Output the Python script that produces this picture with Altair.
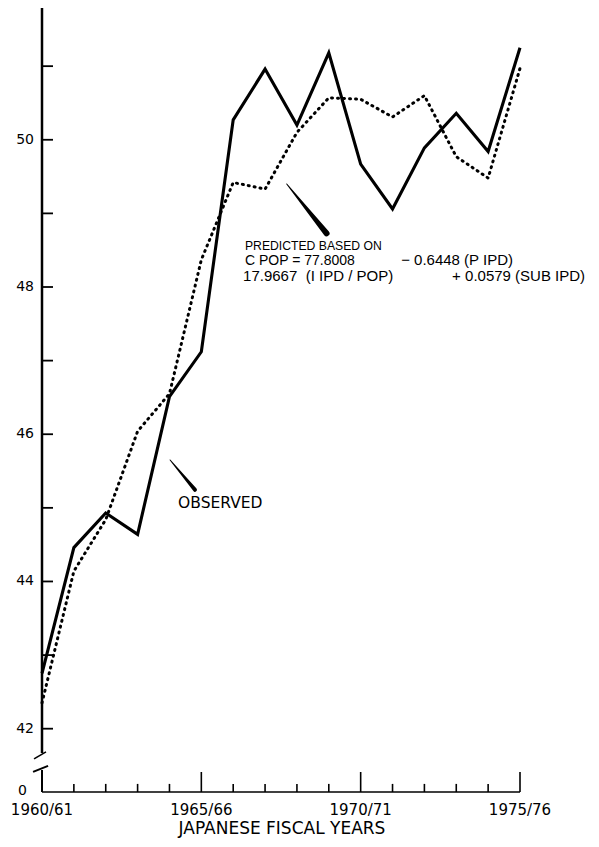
import altair as alt
import pandas as pd

# ---- data ----
years = list(range(1960, 1976))
observed = [42.75, 44.46, 44.93, 44.64, 46.51, 47.12, 50.27, 50.96, 50.20, 51.18,
            49.67, 49.06, 49.89, 50.36, 49.84, 51.25]
predicted = [42.35, 44.14, 44.84, 46.04, 46.55, 48.37, 49.42, 49.33, 50.10, 50.57,
             50.55, 50.31, 50.60, 49.77, 49.48, 50.97]

x_label_years = [1960, 1965, 1970, 1975]
x_label_texts = ["1960/61", "1965/66", "1970/71", "1975/76"]
y_label_values = [42, 44, 46, 48, 50]
y_tick_values = list(range(42, 52))

top_title = "KILOGRAMS PER CAPITA"
x_title = "JAPANESE FISCAL YEARS"
obs_label = "OBSERVED"
NB = "\u00a0"

# ---- scales ----
Y_MIN, Y_MAX = 41.14, 51.79
x_scale = alt.Scale(domain=[1960, 1975], nice=False, zero=False)
y_scale = alt.Scale(domain=[Y_MIN, Y_MAX], nice=False, zero=False)

FONT = "DejaVu Sans"
TFONT = "Liberation Sans"


def X(f="x"):
    return alt.X(f"{f}:Q", scale=x_scale, axis=None)


def Y(f="y"):
    return alt.Y(f"{f}:Q", scale=y_scale, axis=None)


df = pd.DataFrame({"year": years, "observed": observed, "predicted": predicted})

solid = alt.Chart(df).mark_line(color="black", strokeWidth=3.1).encode(
    x=X("year"), y=Y("observed"))
dotted = alt.Chart(df).mark_line(color="black", strokeWidth=3, strokeDash=[1, 5],
                                 strokeCap="round").encode(
    x=X("year"), y=Y("predicted"))

# ---- axis drawing (broken y axis, inward ticks) ----
segs = []
segs.append((1960, 1960, 41.671, Y_MAX, 2.5))          # upper y axis segment
segs.append((1960, 1960, Y_MIN, 41.44, 2.0))           # lower y axis segment
segs.append((1959.75, 1960.125, 41.59, 41.685, 1.6))   # break mark upper
segs.append((1959.72, 1960.19, 41.413, 41.495, 2.0))   # break mark lower
segs.append((1960, 1975, Y_MIN, Y_MIN, 1.6))           # x axis line
for v in y_tick_values:
    segs.append((1960, 1960.345, v, v, 1.8))
for yr in years[1:]:
    h = 0.272 if yr in x_label_years else 0.11
    segs.append((yr, yr, Y_MIN, Y_MIN + h, 1.6))
seg_df = pd.DataFrame(segs, columns=["x", "x2", "y", "y2", "w"])

rules = alt.Chart(seg_df).mark_rule(color="black").encode(
    x=X(), x2="x2:Q", y=Y(), y2="y2:Q",
    strokeWidth=alt.StrokeWidth("w:Q", scale=None),
)

# tick labels
xl_df = pd.DataFrame({"x": x_label_years, "y": [Y_MIN] * 4, "t": x_label_texts})
x_labels = alt.Chart(xl_df).mark_text(
    align="center", baseline="top", dy=11, font=FONT, fontSize=15, color="black"
).encode(x=X(), y=Y(), text="t:N")

yl_df = pd.DataFrame({"x": [1960] * len(y_label_values), "y": y_label_values,
                      "t": [str(v) for v in y_label_values]})
y_labels = alt.Chart(yl_df).mark_text(
    align="right", baseline="middle", dx=-8, font=FONT, fontSize=14, color="black"
).encode(x=X(), y=Y(), text="t:N")

zero_lbl = alt.Chart(pd.DataFrame({"x": [1960], "y": [Y_MIN], "t": ["0"]})).mark_text(
    align="right", baseline="middle", dx=-15, dy=-1, font=FONT, fontSize=14, color="black"
).encode(x=X(), y=Y(), text="t:N")

xt_df = pd.DataFrame({"x": [1967.53], "y": [Y_MIN], "t": [x_title]})
x_title_txt = alt.Chart(xt_df).mark_text(
    align="center", baseline="alphabetic", dy=42, font=FONT, fontSize=17, color="black"
).encode(x=X(), y=Y(), text="t:N")

# ---- annotations ----
pred_df = pd.DataFrame({
    "x": [1966.37, 1966.37, 1971.27, 1966.31, 1972.87],
    "y": [48.505, 48.30, 48.30, 48.084, 48.084],
    "t": ["PREDICTED BASED ON",
          "C POP = 77.8008", "\u2212 0.6448 (P IPD)",
          f"17.9667{NB}{NB}(I IPD{NB}/{NB}POP)", "+ 0.0579 (SUB IPD)"],
    "s": [12.2, 14, 15, 15, 15],
})
pred_txt = alt.Chart(pred_df).mark_text(
    align="left", baseline="alphabetic", font=TFONT, color="black"
).encode(x=X(), y=Y(), text="t:N", size=alt.Size("s:Q", scale=None))

obs_df = pd.DataFrame({"x": [1964.27], "y": [45.0], "t": [obs_label]})
obs_txt = alt.Chart(obs_df).mark_text(
    align="left", baseline="alphabetic", font=FONT, fontSize=15.5, color="black"
).encode(x=X(), y=Y(), text="t:N")

ptr_df = pd.DataFrame({
    "id": ["p", "p", "o", "o"],
    "o": [0, 1, 0, 1],
    "x": [1967.68, 1968.93, 1964.02, 1964.80],
    "y": [49.40, 48.73, 45.65, 45.245],
    "s": [1.0, 6.0, 1.0, 4.0],
})
pointers = alt.Chart(ptr_df).mark_trail(color="black").encode(
    x=X(), y=Y(), size=alt.Size("s:Q", scale=None), detail="id:N", order="o:Q",
)

title_txt = alt.Chart(pd.DataFrame({"t": [top_title]})).mark_text(
    align="left", baseline="alphabetic", font=FONT, fontSize=17, color="black"
).encode(x=alt.value(-25), y=alt.value(-3), text="t:N")

chart = alt.layer(
    solid, dotted, rules, x_labels, y_labels, zero_lbl, x_title_txt,
    pred_txt, obs_txt, pointers, title_txt
).properties(
    width=478, height=784,
    padding={"left": 34, "top": 0, "right": 71, "bottom": 47},
    autosize=alt.AutoSizeParams(type="none"),
    background="white",
).configure_view(stroke=None)

chart.save("out.html", embed_options={"renderer": "svg", "actions": False})
